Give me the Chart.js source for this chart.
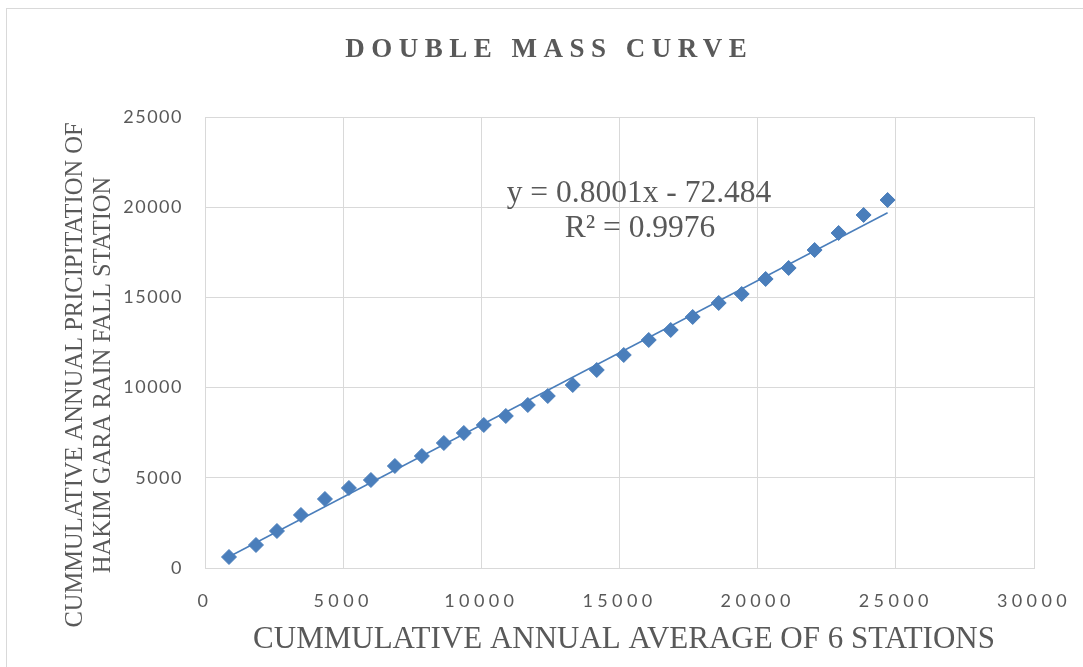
<!DOCTYPE html>
<html>
<head>
<meta charset="utf-8">
<script src="https://cdn.jsdelivr.net/npm/chart.js@4.4.0/dist/chart.umd.min.js"></script>
<style>
  html, body { margin: 0; padding: 0; width: 1083px; height: 667px; overflow: hidden; background: #ffffff; }
  #frame { position: absolute; left: 6px; top: 8px; width: 1200px; height: 800px; border: 1px solid #d9d9d9; box-sizing: border-box; }
  #wrap { position: absolute; left: 0; top: 0; width: 1083px; height: 667px; }
</style>
</head>
<body>
<div id="frame"></div>
<div id="wrap"><canvas id="chart" width="1083" height="667"></canvas></div>
<script>
// Cumulative annual average of the 6 stations (x) and Hakim Gara station (y)
const cumAverage6 = [868, 1845, 2604, 3472, 4340, 5208, 6004, 6872, 7848, 8644, 9367, 10090, 10886, 11682, 12405,
  13309, 14177, 15154, 16058, 16854, 17649, 18590, 19422, 20289, 21121, 22061, 22929, 23834, 24702];
const cumHakimGara = [610, 1275, 2051, 2938, 3825, 4435, 4878, 5654, 6208, 6929, 7483, 7927, 8426, 9035, 9534,
  10144, 10976, 11807, 12639, 13193, 13914, 14690, 15189, 16020, 16630, 17627, 18570, 19568, 20399];

// Linear trendline as printed on the chart
const trendSlope = 0.8001;
const trendIntercept = -72.484;
const rSquared = '0.9976';

const xTickValues = [0, 5000, 10000, 15000, 20000, 25000, 30000];
const yTickValues = [0, 5000, 10000, 15000, 20000, 25000];

const chartTitle = 'DOUBLE MASS CURVE';
const xAxisTitle = 'CUMMULATIVE ANNUAL AVERAGE OF 6 STATIONS';
const yAxisTitle = ['CUMMULATIVE ANNUAL PRICIPITATION OF', 'HAKIM GARA RAIN FALL STATION'];

const points = cumAverage6.map((x, i) => ({ x: x, y: cumHakimGara[i] }));
const xMin = Math.min(...cumAverage6);
const xMax = Math.max(...cumAverage6);
const trendPoints = [xMin, xMax].map(x => ({ x: x, y: trendSlope * x + trendIntercept }));

const TEXT_COLOR = '#595959';
const GRID_COLOR = '#d9d9d9';
const MARK_COLOR = '#4a7ebb';

// wrap a scale's label drawing so its tick text gets extra letter spacing
function spacedLabels(scale, spacing) {
  if (scale._spaced) return;
  const original = scale.drawLabels;
  scale.drawLabels = function (area) {
    const ctx = this.ctx;
    ctx.save();
    ctx.letterSpacing = spacing + 'px';
    original.call(this, area);
    ctx.restore();
  };
  scale._spaced = true;
}

const textPlugin = {
  id: 'chartTexts',
  afterDraw(chart) {
    const ctx = chart.ctx;
    ctx.save();
    ctx.fillStyle = TEXT_COLOR;
    ctx.textAlign = 'center';
    ctx.textBaseline = 'alphabetic';

    // chart title
    const titleSpacing = 6.5;
    ctx.font = 'bold 27px "Liberation Serif"';
    ctx.letterSpacing = titleSpacing + 'px';
    ctx.fillText(chartTitle, 546 + titleSpacing / 2, 57);
    ctx.letterSpacing = '0px';

    // x axis title
    ctx.font = '31px "Liberation Serif"';
    ctx.fillText(xAxisTitle, 624, 648);

    // y axis title (two rotated lines)
    ctx.font = '24.5px "Liberation Serif"';
    const yBaselines = [82, 110];
    yAxisTitle.forEach((line, i) => {
      ctx.save();
      ctx.translate(yBaselines[i], 375);
      ctx.rotate(-Math.PI / 2);
      ctx.fillText(line, 0, 0);
      ctx.restore();
    });

    // trendline equation
    ctx.font = '31.5px "Liberation Serif"';
    const sign = trendIntercept < 0 ? ' - ' : ' + ';
    ctx.fillText('y = ' + trendSlope.toFixed(4) + 'x' + sign + Math.abs(trendIntercept).toFixed(3), 639, 202);
    ctx.fillText('R\u00B2 = ' + rSquared, 640, 237);
    ctx.restore();
  }
};

new Chart(document.getElementById('chart'), {
  type: 'scatter',
  data: {
    datasets: [
      {
        label: 'Hakim Gara',
        data: points,
        pointStyle: 'rectRot',
        pointRadius: 7.5,
        pointBorderWidth: 1,
        backgroundColor: MARK_COLOR,
        borderColor: MARK_COLOR,
        showLine: false
      },
      {
        label: 'Linear trend',
        data: trendPoints,
        showLine: true,
        pointRadius: 0,
        borderColor: MARK_COLOR,
        borderWidth: 1.5,
        backgroundColor: MARK_COLOR
      }
    ]
  },
  options: {
    responsive: false,
    animation: false,
    devicePixelRatio: 1,
    layout: { padding: { top: 117, right: 49, left: 0, bottom: 0 } },
    plugins: {
      legend: { display: false },
      tooltip: { enabled: false },
      title: { display: false }
    },
    scales: {
      x: {
        type: 'linear',
        min: 0,
        max: 30000,
        afterBuildTicks(scale) { scale.ticks = xTickValues.map(v => ({ value: v })); },
        afterFit(scale) { scale.height = 99; spacedLabels(scale, 4.4); },
        grid: { color: GRID_COLOR, lineWidth: 1, drawTicks: false },
        border: { color: GRID_COLOR, width: 1 },
        ticks: {
          color: TEXT_COLOR,
          padding: 22,
          font: { family: 'Lato', size: 18 },
          callback: v => String(v)
        }
      },
      y: {
        type: 'linear',
        min: 0,
        max: 25000,
        afterBuildTicks(scale) { scale.ticks = yTickValues.map(v => ({ value: v })); },
        afterFit(scale) { scale.width = 205; spacedLabels(scale, 1.5); },
        grid: { color: GRID_COLOR, lineWidth: 1, drawTicks: false },
        border: { color: GRID_COLOR, width: 1 },
        ticks: {
          color: TEXT_COLOR,
          padding: 22,
          font: { family: 'Lato', size: 18 },
          callback: v => String(v)
        }
      }
    }
  },
  plugins: [textPlugin]
});
</script>
</body>
</html>
